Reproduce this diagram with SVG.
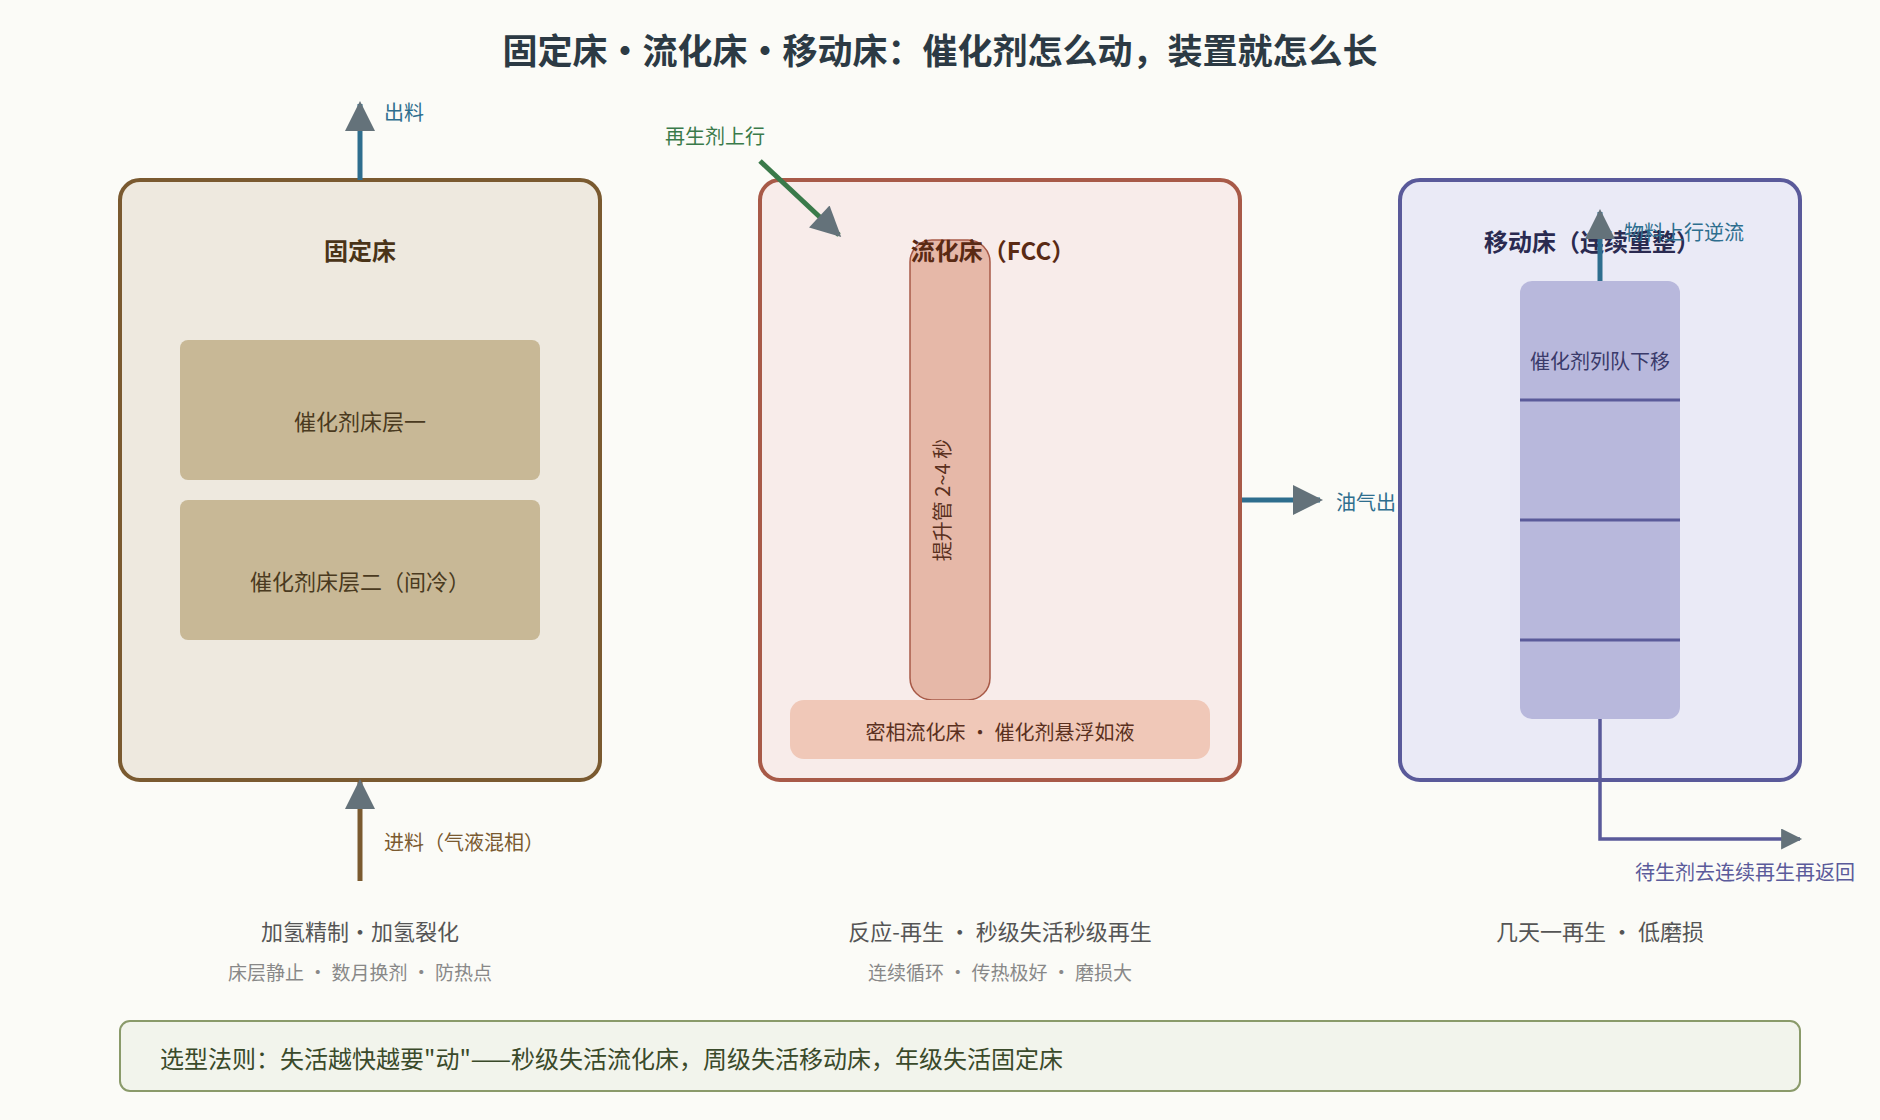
<svg xmlns="http://www.w3.org/2000/svg" width="1880" height="1120" viewBox="0 0 1880 1120">
<defs>
<marker id="ah" viewBox="0 0 10 10" refX="9" refY="5" markerWidth="8" markerHeight="6" orient="auto" markerUnits="strokeWidth"><path d="M0,0 L10,5 L0,10 z" fill="#64727a"/></marker>
<style>
text{font-family:"Noto Sans CJK SC","Noto Sans",sans-serif}
.t{font-size:22px;text-anchor:middle}
.h{font-size:24px;font-weight:bold;text-anchor:middle}
.s{font-size:20px}
</style>
</defs>
<rect width="1880" height="1120" fill="#fbfbf7"/>
<text x="940" y="64" class="h" style="font-size:35px" fill="#2c3a44">固定床•流化床•移动床：催化剂怎么动，装置就怎么长</text>
<g id="fixed">
<rect x="120" y="180" width="480" height="600" rx="20" fill="#eee9df" stroke="#7a5a30" stroke-width="4"/>
<text x="360" y="260" class="h" fill="#4a3418">固定床</text>
<rect x="180" y="340" width="360" height="140" rx="8" fill="#c8b896"/>
<text x="360" y="430" class="t" fill="#4a3a20">催化剂床层一</text>
<rect x="180" y="500" width="360" height="140" rx="8" fill="#c8b896"/>
<text x="360" y="590" class="t" fill="#4a3a20">催化剂床层二（间冷）</text>
</g>
<g id="fcc">
<rect x="760" y="180" width="480" height="600" rx="20" fill="#f8ecea" stroke="#a85a48" stroke-width="4"/>
<rect x="910" y="240" width="80" height="460" rx="22" fill="#e6b8a8" stroke="#a85a48" stroke-width="1.5"/>
<text x="993" y="260" class="h" fill="#5a2a14">流化床（FCC）</text>
<text transform="translate(950,500) rotate(-90)" class="t" style="font-size:20px" fill="#5a3020">提升管 2~4 秒</text>
<rect x="790" y="700" width="420" height="59" rx="14" fill="#f0c8b8"/>
<text x="1000" y="740" class="t" style="font-size:20px" fill="#5a3020">密相流化床 · 催化剂悬浮如液</text>
</g>
<g id="moving">
<rect x="1400" y="180" width="400" height="600" rx="20" fill="#eaeaf6" stroke="#5a5a9a" stroke-width="4"/>
<rect x="1520" y="281" width="160" height="438" rx="12" fill="#b8b8dc"/>
<path d="M1520 400H1680M1520 520H1680M1520 640H1680" stroke="#5a5a9a" stroke-width="3"/>
<text x="1600" y="369" class="t" style="font-size:20px" fill="#3a3a6a">催化剂列队下移</text>
<text x="1592" y="251" class="h" fill="#2a2a50">移动床（连续重整）</text>
</g>
<g id="connectors" fill="none" stroke-width="5">
<line x1="360" y1="180" x2="360" y2="104" stroke="#2e6e8e" marker-end="url(#ah)"/>
<line x1="360" y1="881" x2="360" y2="782" stroke="#7a5a30" marker-end="url(#ah)"/>
<line x1="760" y1="161" x2="839" y2="235" stroke="#3a7a4a" marker-end="url(#ah)"/>
<line x1="1242" y1="500" x2="1320" y2="500" stroke="#2e6e8e" marker-end="url(#ah)"/>
<line x1="1600" y1="281" x2="1600" y2="212" stroke="#2e6e8e" marker-end="url(#ah)"/>
<polyline points="1600,719 1600,839 1800,839" stroke="#5a5a9a" stroke-width="3.5" marker-end="url(#ah)"/>
</g>
<g id="labels" class="s">
<text x="384" y="120" fill="#2e6e8e" class="s">出料</text>
<text x="384" y="850" fill="#7a5a30" class="s">进料（气液混相）</text>
<text x="715" y="144" fill="#3a7a4a" class="s" text-anchor="middle">再生剂上行</text>
<text x="1336" y="510" fill="#2e6e8e" class="s">油气出</text>
<text x="1624" y="240" fill="#2e6e8e" class="s">物料上行逆流</text>
<text x="1745" y="880" fill="#5a5a9a" class="s" text-anchor="middle">待生剂去连续再生再返回</text>
</g>
<g id="notes">
<text x="360" y="940" class="t" fill="#555">加氢精制·加氢裂化</text>
<text x="360" y="980" class="t" style="font-size:19px" fill="#888">床层静止 · 数月换剂 · 防热点</text>
<text x="1000" y="940" class="t" fill="#555">反应-再生 · 秒级失活秒级再生</text>
<text x="1000" y="980" class="t" style="font-size:19px" fill="#888">连续循环 · 传热极好 · 磨损大</text>
<text x="1600" y="940" class="t" fill="#555">几天一再生 · 低磨损</text>
</g>
<g id="rule">
<rect x="120" y="1021" width="1680" height="70" rx="10" fill="#f2f4ec" stroke="#8a9a6a" stroke-width="2"/>
<text x="160" y="1068" class="s" style="font-size:24px" fill="#3a4a2a">选型法则：失活越快越要"动"——秒级失活流化床，周级失活移动床，年级失活固定床</text>
</g>
</svg>
